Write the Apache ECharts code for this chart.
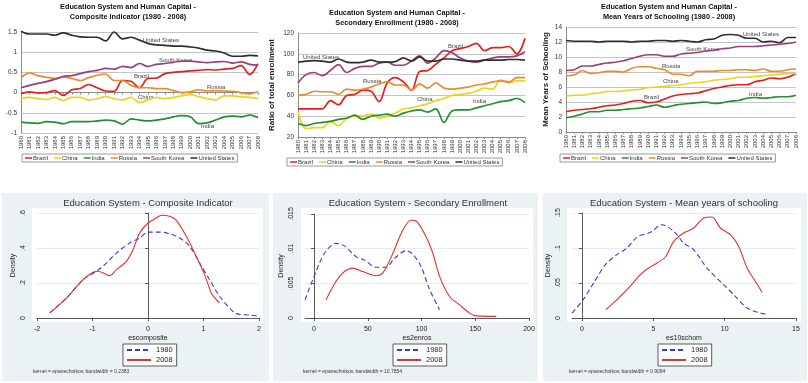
<!DOCTYPE html>
<html><head><meta charset="utf-8">
<script src="https://cdn.jsdelivr.net/npm/echarts@6/dist/echarts.min.js"></script>
<style>html,body{margin:0;padding:0;background:#fff}#c{width:808px;height:383px}</style>
</head><body><div id="c"></div>
<script>
// ---------- DATA ----------
const years = ['1980','1981','1982','1983','1984','1985','1986','1987','1988','1989','1990','1991','1992','1993','1994','1995','1996','1997','1998','1999','2000','2001','2002','2003','2004','2005','2006','2007','2008'];
const countries = ['Brazil','China','India','Russia','South Korea','United States'];

// Composite indicator
const compBrazil = [-0.03,0.02,-0.01,0.0,0.05,-0.07,0.07,0.1,0.2,0.12, 0.04,0.03,0.3,0.28,0.12,0.35,0.36,0.47,0.5,0.52, 0.54,0.55,0.57,0.56,0.58,0.6,0.67,0.45,0.72];
const compChina = [-0.15,-0.12,-0.15,-0.17,-0.12,-0.2,-0.12,-0.12,-0.18,-0.15, -0.1,-0.15,-0.18,-0.12,-0.25,-0.18,-0.12,-0.15,-0.12,-0.08, -0.05,-0.1,-0.15,-0.18,-0.08,-0.08,-0.1,-0.12,-0.15];
const compIndia = [-0.73,-0.75,-0.76,-0.72,-0.73,-0.77,-0.72,-0.72,-0.72,-0.7, -0.68,-0.7,-0.78,-0.65,-0.68,-0.7,-0.68,-0.65,-0.6,-0.57, -0.6,-0.77,-0.75,-0.68,-0.6,-0.58,-0.6,-0.56,-0.62];
const compRussia = [0.37,0.48,0.42,0.38,0.35,0.38,0.35,0.3,0.37,0.43, 0.46,0.3,0.3,0.18,0.12,0.12,0.1,0.1,0.05,0.0, 0.02,0.07,0.04,0.05,0.04,0.03,0.0,-0.03,0.02];
const compKorea = [0.12,0.18,0.23,0.27,0.33,0.4,0.42,0.47,0.52,0.55, 0.6,0.58,0.65,0.62,0.72,0.65,0.7,0.72,0.75,0.78, 0.78,0.76,0.74,0.76,0.77,0.73,0.76,0.7,0.68];
const compUS = [1.52,1.45,1.45,1.45,1.42,1.48,1.42,1.38,1.37,1.37, 1.28,1.5,1.33,1.37,1.3,1.22,1.18,1.17,1.15,1.15, 1.13,1.1,1.05,1.03,0.98,0.9,0.9,0.92,0.91];

// Secondary enrollment
const enrollBrazil = [47,47,47,47,55,51,60,61,65,64, 54,72,77,73,65,83,84,90,96,103, 105,107,110,103,106,106,107,100,115];
const enrollChina = [44,28,29,29,35,31,38,40,40,42, 38,40,43,47,48,50,52,55,57,60, 61,62,64,67,66,75,72,74,74];
const enrollIndia = [33,31,33,34,35,37,38,41,37,40, 41,42,40,43,45,46,44,47,34,45, 46,46,48,50,52,54,55,57,53];
const enrollRussia = [60,61,64,63.5,63.5,61,66,65,66,68, 71,73,70,70,65,71,67,72,67,66, 67,68,70,71,73,74,73,77,77];
const enrollKorea = [72,80,82,79,84,89.5,82,86,88,88, 91,92,89,89,93,98,91,96,103,101, 96,93,92,94,96,97,97,98,102];
const enrollUS = [92,93,93.5,93,92,95,92,91.5,92,94, 92,92,92.5,96,93,97,93,93,95,95, 94,93,93,94,94,94,94.5,94.5,94];

// Mean years of schooling
const schoolBrazil = [2.7,2.9,3.0,3.1,3.3,3.5,3.6,3.8,4.1,4.2, 3.9,4.0,4.4,4.8,5.0,5.1,5.2,5.5,5.8,6.0, 6.2,6.3,6.3,6.7,6.9,7.2,7.1,7.3,7.8];
const schoolChina = [4.8,4.9,4.9,5.1,5.2,5.4,5.4,5.5,5.6,5.7, 5.9,6.0,6.1,6.2,6.3,6.5,6.6,6.7,6.9,7.0, 7.1,7.3,7.3,7.4,7.5,7.6,7.7,7.8,7.8];
const schoolIndia = [1.9,2.1,2.4,2.7,2.7,2.9,2.9,3.0,3.1,3.2, 3.4,3.6,3.3,3.5,3.7,3.8,3.9,4.0,3.8,3.9, 4.1,4.2,4.5,4.6,4.5,4.6,4.7,4.7,4.9];
const schoolRussia = [7.5,7.6,8.2,7.8,7.9,8.1,8.1,8.0,8.5,8.7, 8.7,8.5,8.3,7.7,7.7,7.5,8.1,8.1,8.1,8.2, 8.2,8.3,8.3,8.2,8.4,8.1,8.1,8.3,8.4];
const schoolKorea = [8.2,8.3,8.8,8.8,9.0,9.2,9.3,9.5,9.8,10.1, 10.3,10.3,10.1,10.1,10.4,10.5,10.6,10.8,10.9,11.1, 11.2,11.4,11.4,11.4,11.5,11.6,11.7,11.8,12.0];
const schoolUS = [12.2,12.1,12.1,12.1,12.0,12.1,12.1,12.1,12.0,12.1, 12.1,12.2,12.2,12.1,12.2,12.1,12.0,12.3,12.4,12.9, 13.0,12.9,12.5,12.5,12.0,12.1,11.9,12.6,12.6];

// Kernel densities [x, density]
const kdeComp1980 = [[-1.77,0.029],[-1.47,0.114],[-1.17,0.219],[-0.93,0.267],[-0.75,0.314],[-0.57,0.371],[-0.33,0.429],[-0.15,0.457],[0,0.491],[0.21,0.491],[0.39,0.482],[0.57,0.457],[0.75,0.41],[0.93,0.314],[1.11,0.219],[1.29,0.124],[1.47,0.057],[1.59,0.025],[1.83,0.017],[1.98,0.01]];
const kdeComp2008 = [[-1.77,0.029],[-1.47,0.114],[-1.17,0.219],[-0.99,0.261],[-0.9,0.267],[-0.78,0.253],[-0.69,0.242],[-0.57,0.276],[-0.39,0.324],[-0.27,0.39],[-0.15,0.486],[0,0.543],[0.15,0.571],[0.24,0.587],[0.39,0.581],[0.51,0.558],[0.69,0.467],[0.87,0.352],[1.02,0.248],[1.14,0.143],[1.23,0.105],[1.29,0.086]];
const kdeEnroll1980 = [[-8.4,0.00263],[-1.2,0.0055],[9.6,0.0093],[20.5,0.01077],[28.3,0.0104],[39.1,0.00885],[46.9,0.00837],[57.8,0.00732],[67.1,0.00732],[74.8,0.0086],[85.7,0.0097],[91.9,0.0092],[99.7,0.0074],[107.5,0.0041],[116.8,0.0012]];
const kdeEnroll2008 = [[11.2,0.00263],[20.5,0.0053],[28.3,0.0067],[36,0.0072],[45.3,0.0067],[57.8,0.0061],[64,0.0065],[73.3,0.0093],[82.6,0.0127],[90.4,0.0141],[95,0.014],[104.3,0.0117],[110.6,0.0093],[116.8,0.006],[126.1,0.0031],[135.4,0.0019],[144.7,0.0007],[150.9,0.0003],[169.6,0.00024]];
const kdeSchool1980 = [[-0.7,0.0071],[0,0.0238],[0.82,0.05],[1.64,0.0762],[2.45,0.0905],[3.15,0.1],[3.86,0.1157],[4.79,0.1224],[5.6,0.1333],[6.43,0.1238],[7.13,0.107],[7.83,0.0976],[8.76,0.0714],[9.93,0.0476],[10.75,0.031],[11.57,0.0143],[12.5,0.0071],[13.08,0.0048]];
const kdeSchool2008 = [[1.68,0.0119],[2.45,0.0262],[3.27,0.0429],[4.09,0.0619],[4.67,0.0714],[5.26,0.0786],[5.84,0.0871],[6.43,0.1095],[7.13,0.1214],[7.83,0.1286],[8.53,0.1429],[9.11,0.1443],[9.7,0.1286],[10.4,0.119],[10.98,0.1024],[11.57,0.0714],[12.15,0.0524],[12.62,0.0367]];

// ---------- STYLE ----------
const FONT = 'Liberation Sans, Arial, sans-serif';
const countryColors = ['#e3201b','#f2d21a','#23912b','#ef8a2a','#9b3f78','#2e2e2e'];
const panelSeries = [
  [compBrazil, compChina, compIndia, compRussia, compKorea, compUS],
  [enrollBrazil, enrollChina, enrollIndia, enrollRussia, enrollKorea, enrollUS],
  [schoolBrazil, schoolChina, schoolIndia, schoolRussia, schoolKorea, schoolUS]
];

const topGrids = [
  {left:21, top:32, width:237, height:101},
  {left:298, top:33, width:227, height:104},
  {left:566, top:27, width:230, height:105}
];
const topY = [
  {min:-1, max:1.5, interval:0.5, name:''},
  {min:20, max:120, interval:20, name:'Ratio of total enrollment', gap:22},
  {min:0, max:14, interval:2, name:'Mean Years of Schooling', gap:16}
];
const botGrids = [
  {left:37, top:213, width:222, height:105},
  {left:305, top:214, width:224, height:104},
  {left:572, top:213, width:224, height:105}
];
const botX = [
  {min:-2, max:2, ticks:[-2,-1,0,1,2], name:'escomposite'},
  {min:-8.4, max:200, ticks:[0,50,100,150,200], name:'es2enros'},
  {min:-0.7, max:15, ticks:[0,5,10,15], name:'es10schom'}
];
const botY = [
  {max:0.6, interval:0.2},
  {max:0.015, interval:0.005},
  {max:0.15, interval:0.05}
];
const kde = [[kdeComp1980, kdeComp2008],[kdeEnroll1980, kdeEnroll2008],[kdeSchool1980, kdeSchool2008]];

const grid = [], xAxis = [], yAxis = [], series = [], legend = [], graphic = [];

topGrids.forEach((g, p) => {
  grid.push(Object.assign({containLabel:false}, g));
  xAxis.push({
    type:'category', gridIndex:p, data:years, boundaryGap:false,
    axisLine:{lineStyle:{color:'#8c8c8c'}},
    axisTick:{show:true, length:2, lineStyle:{color:'#8c8c8c'}},
    axisLabel:{rotate:90, interval:0, fontSize:6, color:'#333', margin:3, fontFamily:FONT}
  });
  yAxis.push({
    type:'value', gridIndex:p, min:topY[p].min, max:topY[p].max, interval:topY[p].interval,
    name:topY[p].name, nameLocation:'middle', nameGap:topY[p].gap || 0, nameRotate:90,
    nameTextStyle:{fontSize:8, fontWeight:'bold', color:'#222', fontFamily:FONT},
    axisLine:{show:true, lineStyle:{color:'#8c8c8c'}},
    axisTick:{show:false},
    axisLabel:{fontSize:6.5, color:'#333', margin:4, fontFamily:FONT},
    splitLine:{show:true, lineStyle:{color:'#c4c4c4', width:1}}
  });
  countries.forEach((c, i) => {
    series.push({
      type:'line', name:c, xAxisIndex:p, yAxisIndex:p, data:panelSeries[p][i],
      smooth:0.35, symbol:'none', clip:false,
      lineStyle:{width:1.7, color:countryColors[i]}, itemStyle:{color:countryColors[i]}
    });
  });
});

const legendTop = [
  {left:22, top:154},
  {left:287, top:158},
  {left:560, top:154}
];
legendTop.forEach(l => {
  legend.push({
    data:countries, left:l.left, top:l.top, orient:'horizontal',
    icon:'rect', itemWidth:7, itemHeight:1.5, itemGap:6,
    padding:[1,3], borderColor:'#9a9a9a', borderWidth:1, backgroundColor:'#fff',
    textStyle:{fontSize:6, color:'#333', fontFamily:FONT, padding:[0,0,0,-4]},
    selectedMode:false
  });
});

const fmtDot = v => { const s = String(Number(v.toFixed(4))); return s === '0' ? '0' : s.replace(/^0\./,'.').replace(/^-0\./,'-.'); };

botGrids.forEach((g, j) => {
  const p = j + 3;
  grid.push(Object.assign({containLabel:false}, g));
  xAxis.push({
    type:'value', gridIndex:p, min:botX[j].min, max:botX[j].max, offset:4,
    name:botX[j].name, nameLocation:'middle', nameGap:13,
    nameTextStyle:{fontSize:7, color:'#222', fontFamily:FONT},
    axisLine:{show:true, lineStyle:{color:'#333', width:0.8}},
    axisTick:{show:true, length:3, customValues:botX[j].ticks, lineStyle:{color:'#333', width:0.8}},
    axisLabel:{fontSize:7, color:'#222', margin:4, customValues:botX[j].ticks, fontFamily:FONT, formatter:v=>String(v)},
    splitLine:{show:false}
  });
  yAxis.push({
    type:'value', gridIndex:p, min:0, max:botY[j].max, interval:botY[j].interval, offset:5,
    name:'Density', nameLocation:'middle', nameGap:15, nameRotate:90,
    nameTextStyle:{fontSize:7, color:'#222', fontFamily:FONT},
    axisLine:{show:true, lineStyle:{color:'#333', width:0.8}},
    axisTick:{show:true, length:3, lineStyle:{color:'#333', width:0.8}},
    axisLabel:{fontSize:7, color:'#222', margin:5, rotate:90, fontFamily:FONT, formatter:fmtDot},
    splitLine:{show:true, lineStyle:{color:'#e3ecee', width:1}}
  });
  series.push({
    type:'line', name:'1980', xAxisIndex:p, yAxisIndex:p, data:kde[j][0],
    smooth:0.3, symbol:'none', clip:false,
    lineStyle:{width:1.1, color:'#3b3bd0', type:[5,3]}, itemStyle:{color:'#3b3bd0'}
  });
  series.push({
    type:'line', name:'2008', xAxisIndex:p, yAxisIndex:p, data:kde[j][1],
    smooth:0.3, symbol:'none', clip:false,
    lineStyle:{width:1.1, color:'#e2322b'}, itemStyle:{color:'#e2322b'}
  });
});

const legendBot = [123, 393, 658];
legendBot.forEach(x => {
  legend.push({
    data:['1980','2008'], left:x, top:344, orient:'vertical',
    itemWidth:24, itemHeight:8, itemGap:2, padding:[2,4,2,3],
    borderColor:'#333', borderWidth:0.8, backgroundColor:'#fff',
    itemStyle:{opacity:0, color:'transparent', borderWidth:0},
    textStyle:{fontSize:7.5, color:'#222', fontFamily:FONT},
    selectedMode:false
  });
});

// Panel backgrounds (bottom, Stata style)
const outer = [[2,193,267,188],[273,193,265,188],[543,193,264,188]];
const inner = [[32,208,231,114],[301,208,232,114],[567,208,234,114]];
outer.forEach(r => graphic.push({type:'rect', z:-10, shape:{x:r[0],y:r[1],width:r[2],height:r[3]}, style:{fill:'#eaf2f3'}}));
inner.forEach(r => graphic.push({type:'rect', z:-9, shape:{x:r[0],y:r[1],width:r[2],height:r[3]}, style:{fill:'#ffffff'}}));

// Titles
const titles = [
  {x:128, y:7, t:'Education System and Human Capital -'},
  {x:128, y:16.5, t:'Composite Indicator (1980 - 2008)'},
  {x:397, y:13, t:'Education System and Human Capital -'},
  {x:397, y:22.5, t:'Secondary Enrollment (1980 - 2008)'},
  {x:669, y:7, t:'Education System and Human Capital -'},
  {x:669, y:16.5, t:'Mean Years of Schooling (1980 - 2008)'}
];
titles.forEach(o => graphic.push({type:'text', style:{text:o.t, x:o.x, y:o.y, align:'center', verticalAlign:'middle', fontSize:7.3, fontWeight:'bold', fontFamily:FONT, fill:'#111'}}));

const botTitles = [
  {x:148, t:'Education System - Composite Indicator'},
  {x:418, t:'Education System - Secondary Enrollment'},
  {x:684, t:'Education System - Mean years of schooling'}
];
botTitles.forEach(o => graphic.push({type:'text', style:{text:o.t, x:o.x, y:203.5, align:'center', verticalAlign:'middle', fontSize:9.5, fontFamily:FONT, fill:'#333'}}));

const notes = [
  {x:33, t:'kernel = epanechnikov, bandwidth = 0.2383'},
  {x:303, t:'kernel = epanechnikov, bandwidth = 10.7854'},
  {x:569, t:'kernel = epanechnikov, bandwidth = 0.9094'}
];
notes.forEach(o => graphic.push({type:'text', style:{text:o.t, x:o.x, y:372, align:'left', verticalAlign:'middle', fontSize:5, fontFamily:FONT, fill:'#333'}}));

// Line annotations in top panels
const ann = [
  {x:143,y:40,t:'United States'},{x:159,y:60,t:'South Korea'},{x:134,y:76,t:'Brazil'},
  {x:207,y:87,t:'Russia'},{x:138,y:97,t:'China'},{x:201,y:126,t:'India'},
  {x:303,y:57,t:'United States'},{x:448,y:46,t:'Brazil'},{x:363,y:81,t:'Russia'},
  {x:417,y:99,t:'China'},{x:473,y:101,t:'India'},
  {x:743,y:34,t:'United States'},{x:686,y:49,t:'South Korea'},{x:662,y:66,t:'Russia'},
  {x:663,y:81,t:'China'},{x:644,y:97,t:'Brazil'},{x:749,y:94,t:'India'}
];
ann.forEach(o => graphic.push({type:'text', style:{text:o.t, x:o.x, y:o.y, align:'left', verticalAlign:'middle', fontSize:6, fontFamily:FONT, fill:'#444'}}));

const chart = echarts.init(document.getElementById('c'), null, {renderer:'canvas'});
chart.setOption({
  animation:false,
  backgroundColor:'#ffffff',
  textStyle:{fontFamily:FONT},
  grid, xAxis, yAxis, series, legend, graphic
});
</script></body></html>
